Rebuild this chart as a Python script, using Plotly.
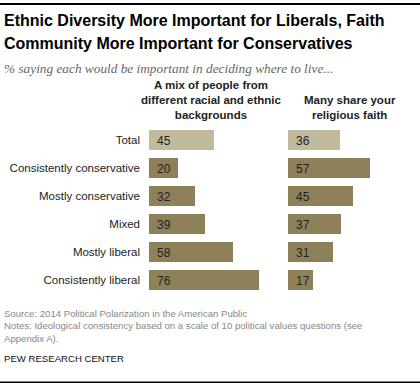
import plotly.graph_objects as go

categories = ["Total", "Consistently conservative", "Mostly conservative",
              "Mixed", "Mostly liberal", "Consistently liberal"]
mix_values = [45, 20, 32, 39, 58, 76]
faith_values = [36, 57, 45, 37, 31, 17]
col1_title = "A mix of people from<br>different racial and ethnic<br>backgrounds"
col2_title = "Many share your<br>religious faith"

W, H = 420, 385
TOP, BOT = 126, 294

def py(p):
    return 1 - p / H

def px(p):
    return p / W

LIGHT = "#C2BA9C"
DARK = "#8E8159"
colors = [LIGHT] + [DARK] * (len(categories) - 1)

SCALE = 1.444  # px per unit
x1_start, x2_start = 149, 288
RANGE = 90

fig = go.Figure()
fig.add_trace(go.Bar(y=categories, x=mix_values, orientation="h",
                     marker=dict(color=colors, line=dict(width=0)),
                     width=0.68, xaxis="x", yaxis="y", hoverinfo="skip"))
fig.add_trace(go.Bar(y=categories, x=faith_values, orientation="h",
                     marker=dict(color=colors, line=dict(width=0)),
                     width=0.68, xaxis="x2", yaxis="y", hoverinfo="skip"))

ann = []
for c, v in zip(categories, mix_values):
    ann.append(dict(x=0, y=c, xref="x", yref="y", text=str(v), showarrow=False,
                    xanchor="left", xshift=6, yshift=-1,
                    font=dict(family="Liberation Sans, Arial", size=12, color="#222")))
for c, v in zip(categories, faith_values):
    ann.append(dict(x=0, y=c, xref="x2", yref="y", text=str(v), showarrow=False,
                    xanchor="left", xshift=6, yshift=-1,
                    font=dict(family="Liberation Sans, Arial", size=12, color="#222")))

# Titles
ann.append(dict(x=px(2), y=py(31), xref="paper", yref="paper", xanchor="left", yanchor="bottom",
                text="<b>Ethnic Diversity More Important for Liberals, Faith</b>",
                showarrow=False, font=dict(family="Liberation Sans, Arial", size=16, color="#000")))
ann.append(dict(x=px(2), y=py(54), xref="paper", yref="paper", xanchor="left", yanchor="bottom",
                text="<b>Community More Important for Conservatives</b>",
                showarrow=False, font=dict(family="Liberation Sans, Arial", size=16, color="#000")))
ann.append(dict(x=px(2), y=py(78), xref="paper", yref="paper", xanchor="left", yanchor="bottom",
                text="<i>% saying each would be important in deciding where to live...</i>",
                showarrow=False, font=dict(family="Liberation Serif, Times New Roman", size=13.3, color="#666")))
# Column headers
ann.append(dict(x=px(211), y=py(123), xref="paper", yref="paper", xanchor="center", yanchor="bottom",
                text="<b>" + col1_title + "</b>", showarrow=False, align="center",
                font=dict(family="Liberation Sans, Arial", size=11.5, color="#222")))
ann.append(dict(x=px(350), y=py(123), xref="paper", yref="paper", xanchor="center", yanchor="bottom",
                text="<b>" + col2_title + "</b>", showarrow=False, align="center",
                font=dict(family="Liberation Sans, Arial", size=11.5, color="#222")))
# Footer
ann.append(dict(x=px(2), y=py(306), xref="paper", yref="paper", xanchor="left", yanchor="top",
                text="Source: 2014 Political Polarization in the American Public<br>"
                     "Notes: Ideological consistency based on a scale of 10 political values questions (see<br>"
                     "Appendix A).",
                showarrow=False, align="left",
                font=dict(family="Liberation Sans, Arial", size=9.6, color="#888")))
ann.append(dict(x=px(2), y=py(351), xref="paper", yref="paper", xanchor="left", yanchor="top",
                text="PEW RESEARCH CENTER", showarrow=False,
                font=dict(family="Liberation Sans, Arial", size=9.6, color="#111")))

shapes = [
    dict(type="rect", xref="paper", yref="paper", x0=0, x1=1, y0=py(5), y1=py(3),
         line=dict(width=0), fillcolor="#000", layer="above"),
    dict(type="rect", xref="paper", yref="paper", x0=0, x1=1, y0=py(383), y1=py(381.5),
         line=dict(width=0), fillcolor="#000", layer="above"),
]

fig.update_layout(
    width=W, height=H,
    margin=dict(l=0, r=0, t=0, b=0, pad=0, autoexpand=False),
    plot_bgcolor="white", paper_bgcolor="white",
    showlegend=False, bargap=0,
    annotations=ann, shapes=shapes,
    xaxis=dict(domain=[px(x1_start), px(x1_start + RANGE * SCALE)], range=[0, RANGE],
               showgrid=False, zeroline=False, showticklabels=False, fixedrange=True,
               automargin=False),
    xaxis2=dict(domain=[px(x2_start), px(x2_start + RANGE * SCALE)], range=[0, RANGE],
                showgrid=False, zeroline=False, showticklabels=False, fixedrange=True,
                automargin=False),
    yaxis=dict(domain=[py(BOT), py(TOP)], autorange="reversed", showgrid=False,
               zeroline=False, automargin=False, ticks="", ticklabelstandoff=8,
               fixedrange=True,
               tickfont=dict(family="Liberation Sans, Arial", size=11.5, color="#222")),
)

fig.write_html("out.html", config={"displayModeBar": False},
               post_script="document.body.style.margin='0';document.body.style.padding='0';")
